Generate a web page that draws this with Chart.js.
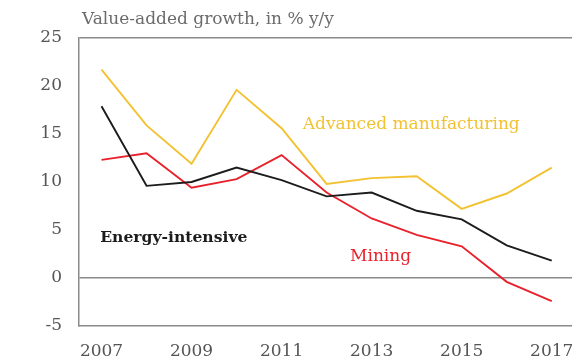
<!DOCTYPE html>
<html>
<head>
<meta charset="utf-8">
<script src="https://cdn.jsdelivr.net/npm/chart.js@4.4.1/dist/chart.umd.min.js"></script>
<style>
  html, body { margin: 0; padding: 0; background: #fff; }
  #wrap { width: 572px; height: 358px; position: relative; }
</style>
</head>
<body>
<div id="wrap"><canvas id="c" width="572" height="358"></canvas></div>
<script>
// Years and value-added growth (% y/y) by sector
const years = [2007, 2008, 2009, 2010, 2011, 2012, 2013, 2014, 2015, 2016, 2017];
const advancedManufacturing = [21.7, 15.9, 11.9, 19.6, 15.6, 9.8, 10.4, 10.6, 7.2, 8.8, 11.5];
const energyIntensive = [17.9, 9.6, 10.0, 11.5, 10.2, 8.5, 8.9, 7.0, 6.1, 3.4, 1.8];
const mining = [12.3, 13.0, 9.4, 10.3, 12.8, 8.9, 6.2, 4.5, 3.3, -0.4, -2.4];
const xTicks = [2007, 2009, 2011, 2013, 2015, 2017];
const yTicks = [-5, 0, 5, 10, 15, 20, 25];

const title = 'Value-added growth, in % y/y';
const seriesLabels = [
  { text: 'Advanced manufacturing', x: 2011.47, y: 16.0, color: '#F2C232', bold: false, size: 17 },
  { text: 'Energy-intensive', x: 2006.97, y: 4.2, color: '#1c1c1c', bold: true, size: 15.6 },
  { text: 'Mining', x: 2012.52, y: 2.2, color: '#E8222C', bold: false, size: 17 }
];

const SERIF = '"DejaVu Serif", "Liberation Serif", serif';
const pts = arr => years.map((y, i) => ({ x: y, y: arr[i] }));

const labelPlugin = {
  id: 'seriesLabels',
  afterDatasetsDraw(chart) {
    const { ctx, scales: { x, y } } = chart;
    ctx.save();
    ctx.textBaseline = 'middle';
    ctx.textAlign = 'left';
    seriesLabels.forEach(l => {
      ctx.font = (l.bold ? 'bold ' : '') + l.size + 'px ' + SERIF;
      ctx.fillStyle = l.color;
      ctx.fillText(l.text, x.getPixelForValue(l.x), y.getPixelForValue(l.y));
    });
    // heading above the plot
    ctx.font = '17px ' + SERIF;
    ctx.fillStyle = '#6b6b6b';
    ctx.fillText(title, chart.chartArea.left + 3, 20);
    ctx.restore();
  }
};

new Chart(document.getElementById('c'), {
  type: 'line',
  data: {
    datasets: [
      { label: 'Advanced manufacturing', data: pts(advancedManufacturing), borderColor: '#F2C232', borderWidth: 1.9 },
      { label: 'Energy-intensive', data: pts(energyIntensive), borderColor: '#1c1c1c', borderWidth: 1.9 },
      { label: 'Mining', data: pts(mining), borderColor: '#E8222C', borderWidth: 1.9 }
    ]
  },
  options: {
    responsive: false,
    animation: false,
    layout: { padding: { top: 38, right: 0, left: 0, bottom: 0 } },
    elements: { point: { radius: 0 }, line: { tension: 0 } },
    plugins: { legend: { display: false }, tooltip: { enabled: false } },
    scales: {
      x: {
        type: 'linear',
        min: 2006.5,
        max: 2017.45,
        afterBuildTicks: s => { s.ticks = xTicks.map(v => ({ value: v })); },
        afterFit: s => { s.height = 32; s.paddingLeft = 0; s.paddingRight = 0; },
        grid: { display: false },
        border: { display: true, color: '#8a8a8a', width: 1.5 },
        ticks: {
          color: '#555',
          font: { family: SERIF, size: 17 },
          padding: 7,
          maxRotation: 0,
          autoSkip: false,
          callback: v => String(v)
        }
      },
      y: {
        min: -5,
        max: 25,
        afterBuildTicks: s => { s.ticks = yTicks.map(v => ({ value: v })); },
        afterFit: s => { s.width = 79; s.paddingTop = 0; s.paddingBottom = 0; },
        grid: {
          drawTicks: false,
          color: c => (c.tick && (c.tick.value === 0 || c.tick.value === 25)) ? '#8a8a8a' : 'rgba(0,0,0,0)',
          lineWidth: 1.5
        },
        border: { display: true, color: '#8a8a8a', width: 1.5 },
        ticks: {
          color: '#555',
          font: { family: SERIF, size: 17 },
          padding: 17,
          callback: v => String(v)
        }
      }
    }
  },
  plugins: [labelPlugin]
});
</script>
</body>
</html>
